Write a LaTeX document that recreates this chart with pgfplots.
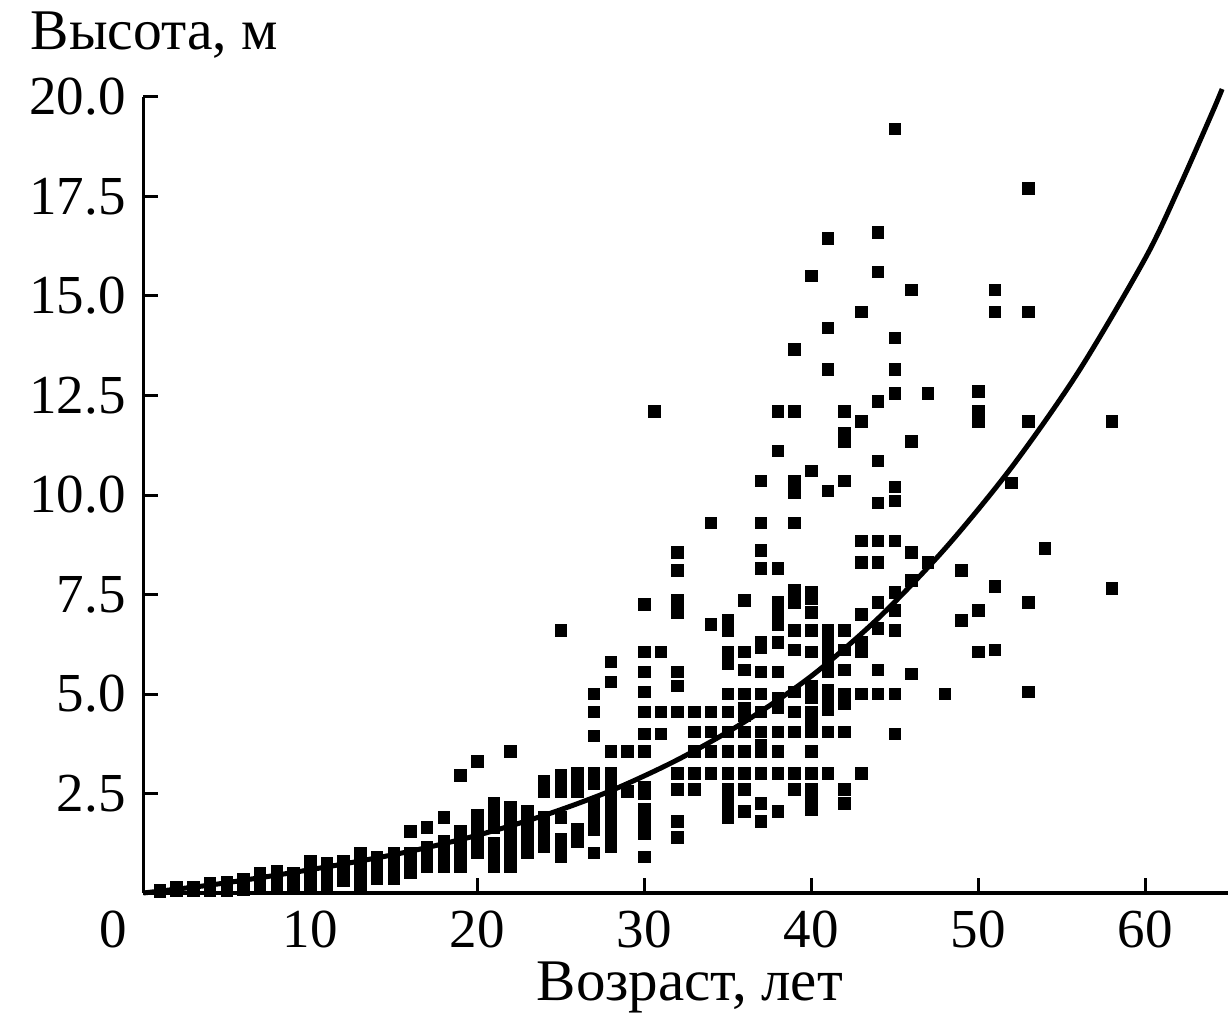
\documentclass[border=0pt]{standalone}
\usepackage{fontspec}
\setmainfont{Liberation Serif}
\usepackage{pgfplots}
\pgfplotsset{compat=1.18}
\usepackage{pgfplotstable}
\pgfplotstableread{
x y
1 0.03
1 0.08
2 0.05
2 0.15
3 0.05
3 0.15
4 0.05
4 0.15
4 0.25
5 0.05
5 0.15
5 0.27
6 0.08
6 0.2
6 0.35
7 0.15
7 0.3
7 0.5
8 0.1
8 0.25
8 0.4
8 0.55
9 0.2
9 0.35
9 0.5
10 0.15
10 0.3
10 0.45
10 0.6
10 0.8
11 0.2
11 0.35
11 0.5
11 0.65
11 0.75
12 0.3
12 0.45
12 0.6
12 0.8
13 0.15
13 0.3
13 0.45
13 0.6
13 0.75
13 0.9
13 1.0
14 0.35
14 0.5
14 0.65
14 0.8
14 0.9
15 0.35
15 0.5
15 0.65
15 0.8
15 1.0
16 0.5
16 0.65
16 0.8
16 1.0
16 1.55
17 0.65
17 0.8
17 0.95
17 1.15
17 1.65
18 0.65
18 0.8
18 0.95
18 1.1
18 1.3
18 1.9
19 0.65
19 0.8
19 0.95
19 1.1
19 1.25
19 1.4
19 1.55
19 2.95
20 1.0
20 1.15
20 1.3
20 1.45
20 1.6
20 1.75
20 1.95
20 3.3
21 0.65
21 0.8
21 0.95
21 1.1
21 1.25
21 1.65
21 1.8
21 1.95
21 2.1
21 2.25
22 0.65
22 0.8
22 0.95
22 1.1
22 1.25
22 1.4
22 1.55
22 1.7
22 1.85
22 2.0
22 2.15
22 3.55
23 1.0
23 1.15
23 1.3
23 1.45
23 1.6
23 1.75
23 1.9
23 2.05
24 1.15
24 1.3
24 1.45
24 1.6
24 1.75
24 1.9
24 2.55
24 2.8
25 0.9
25 1.05
25 1.2
25 1.35
25 1.9
25 2.55
25 2.7
25 2.85
25 2.95
25 6.6
26 1.3
26 1.45
26 1.6
26 2.55
26 2.8
26 3.0
27 1.0
27 1.6
27 1.75
27 1.9
27 2.05
27 2.25
27 2.75
27 3.0
27 3.95
27 4.55
27 5.0
28 1.15
28 1.3
28 1.45
28 1.6
28 1.75
28 1.9
28 2.05
28 2.2
28 2.35
28 2.5
28 2.65
28 2.8
28 3.0
28 3.55
28 5.3
28 5.8
29 2.55
29 3.55
30 0.9
30 1.5
30 1.65
30 1.85
30 2.1
30 2.5
30 2.65
30 3.55
30 4.0
30 4.55
30 5.05
30 5.55
30 6.05
30 7.25
30.6 12.1
31 4.0
31 4.55
31 6.05
32 1.4
32 1.8
32 2.6
32 3.0
32 4.55
32 5.2
32 5.55
32 7.05
32 7.35
32 8.1
32 8.55
33 2.6
33 3.0
33 3.55
33 4.05
33 4.55
34 3.0
34 3.55
34 4.05
34 4.55
34 6.75
34 9.3
35 1.9
35 2.15
35 2.4
35 2.6
35 3.0
35 3.55
35 4.05
35 4.55
35 5.0
35 5.75
35 6.05
35 6.6
35 6.85
36 2.05
36 2.6
36 3.0
36 3.55
36 4.05
36 4.45
36 4.65
36 5.0
36 5.6
36 6.05
36 7.35
37 1.8
37 2.25
37 3.0
37 3.55
37 3.7
37 4.05
37 4.55
37 5.0
37 5.55
37 6.15
37 6.3
37 8.15
37 8.6
37 9.3
37 10.35
38 2.05
38 3.0
38 3.55
38 4.05
38 4.65
38 4.9
38 5.55
38 6.3
38 6.75
38 7.05
38 7.3
38 8.15
38 11.1
38 12.1
39 2.6
39 3.0
39 4.05
39 4.55
39 5.05
39 6.1
39 6.6
39 7.3
39 7.6
39 9.3
39 10.05
39 10.35
39 12.1
39 13.65
40 2.1
40 2.35
40 2.6
40 3.0
40 3.55
40 4.05
40 4.35
40 4.55
40 4.9
40 5.2
40 6.05
40 6.6
40 7.05
40 7.4
40 7.55
40 10.6
40 15.5
41 3.0
41 4.05
41 4.6
41 4.85
41 5.1
41 5.55
41 5.8
41 6.1
41 6.35
41 6.6
41 10.1
41 13.15
41 14.2
41 16.45
42 2.25
42 2.6
42 4.05
42 4.75
42 5.0
42 5.6
42 6.1
42 6.6
42 10.35
42 11.35
42 11.55
42 12.1
43 3.0
43 5.0
43 6.05
43 6.3
43 7.0
43 8.3
43 8.85
43 11.85
43 14.6
44 5.0
44 5.6
44 6.65
44 7.3
44 8.3
44 8.85
44 9.8
44 10.85
44 12.35
44 15.6
44 16.6
45 4.0
45 5.0
45 6.6
45 7.1
45 7.55
45 8.85
45 9.85
45 10.2
45 12.55
45 13.15
45 13.95
45 19.2
46 5.5
46 7.85
46 8.55
46 11.35
46 15.15
47 8.3
47 12.55
48 5.0
49 6.85
49 8.1
50 6.05
50 7.1
50 11.85
50 12.1
50 12.6
51 6.1
51 7.7
51 14.6
51 15.15
52 10.3
53 5.05
53 7.3
53 11.85
53 14.6
53 17.7
54 8.65
58 7.65
58 11.85
}\pts
\begin{document}
\begin{tikzpicture}[font=\fontsize{11}{13}\selectfont]
\begin{axis}[
  anchor=origin, at={(0pt,0pt)},
  scale only axis, width=217.1pt, height=159.2pt,
  xmin=0, xmax=65, ymin=0, ymax=20,
  axis lines=left,
  axis line style={-, line width=0.7pt, black},
  tick align=inside, major tick length=3pt,
  tick style={line width=0.6pt, black},
  xtick={10,20,30,40,50,60},
  xticklabels={10,20,30,40,50,60},
  ytick={2.5,5,7.5,10,12.5,15,17.5,20},
  yticklabels={2.5,5.0,7.5,10.0,12.5,15.0,17.5,20.0},
  extra x ticks={0}, extra x tick labels={0},
  extra x tick style={major tick length=0pt, xticklabel style={xshift=-6pt}},
  clip=false,
]
\addplot[only marks, mark=square*, mark size=1.05pt, color=black] table {\pts};
\addplot[black, line width=1pt, smooth] coordinates {
(0,0) (4,0.2) (8,0.45) (12,0.73) (16,1.05) (20,1.45) (24,1.95) (28,2.57)
(32,3.35) (36,4.3) (40,5.45) (44,6.9) (48,8.65) (52,10.7) (56,13.1)
(60,15.95) (62,17.7) (64,19.6) (64.6,20.2)};
\end{axis}
\node[anchor=west, inner sep=0pt, font=\fontsize{11.5}{13}\selectfont] at (-22.7pt,171.6pt) {Высота, м};
\node[anchor=base, inner sep=0pt, font=\fontsize{11.8}{13}\selectfont] at (109.3pt,-21.4pt) {Возраст, лет};
\pgfresetboundingbox
\path (-28.66pt,-24.6pt) rectangle (216.94pt,178.6pt);
\end{tikzpicture}
\end{document}
